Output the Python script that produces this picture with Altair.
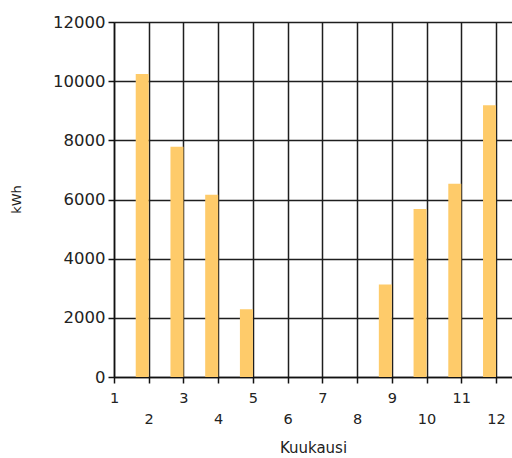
import altair as alt
import pandas as pd

months = [2, 3, 4, 5, 9, 10, 11, 12]
kwh = [10240, 7780, 6160, 2290, 3130, 5680, 6530, 9190]
x_ticks = list(range(1, 13))
y_ticks = [0, 2000, 4000, 6000, 8000, 10000, 12000]

df = pd.DataFrame({"Kuukausi": months, "kWh": kwh})

FONT = "DejaVu Sans"

chart = (
    alt.Chart(df)
    .mark_bar(width=13, xOffset=-6.5, color="#FECB6A")
    .encode(
        x=alt.X(
            "Kuukausi:Q",
            scale=alt.Scale(domain=[1, 12.46], nice=False, zero=False, padding=0),
            axis=alt.Axis(
                title="Kuukausi",
                values=x_ticks,
                format="d",
                labelFlush=False,
                labelOverlap=False,
                labelFont=FONT,
                labelFontSize=14.5,
                labelColor="#222222",
                labelBaseline="top",
                labelPadding={"condition": {"test": "datum.value % 2 == 0", "value": 29}, "value": 8},
                tickSize=6,
                tickColor="#111111",
                tickWidth=1.5,
                domainColor="#111111",
                domainWidth=1.5,
                gridColor="#1e1e1e",
                gridWidth=1.5,
                gridOpacity=1,
                titleFont=FONT,
                titleFontSize=15,
                titleFontWeight="normal",
                titleColor="#222222",
                titleY=70,
                titleBaseline="middle",
            ),
        ),
        y=alt.Y(
            "kWh:Q",
            scale=alt.Scale(domain=[0, 12000], nice=False, padding=0),
            axis=alt.Axis(
                title="kWh",
                values=y_ticks,
                format="d",
                labelFlush=False,
                labelOverlap=False,
                labelFont=FONT,
                labelFontSize=16.5,
                labelColor="#222222",
                labelPadding=3,
                tickSize=6,
                tickColor="#111111",
                tickWidth=1.5,
                domainColor="#111111",
                domainWidth=1.5,
                gridColor="#1e1e1e",
                gridWidth=1.5,
                gridOpacity=1,
                titleFont=FONT,
                titleFontSize=13,
                titleFontWeight="normal",
                titleColor="#222222",
                titleX=-98,
                titleY=177,
                titleAngle=270,
                titleAlign="center",
                titleBaseline="middle",
            ),
        ),
    )
    .properties(
        width=398,
        height=355,
        autosize=alt.AutoSizeParams(type="none"),
        padding={"left": 114, "top": 22, "right": 0, "bottom": 81},
        background="white",
    )
    .configure_view(stroke=None)
)

chart.save("out.html", embed_options={"renderer": "svg", "actions": False})
